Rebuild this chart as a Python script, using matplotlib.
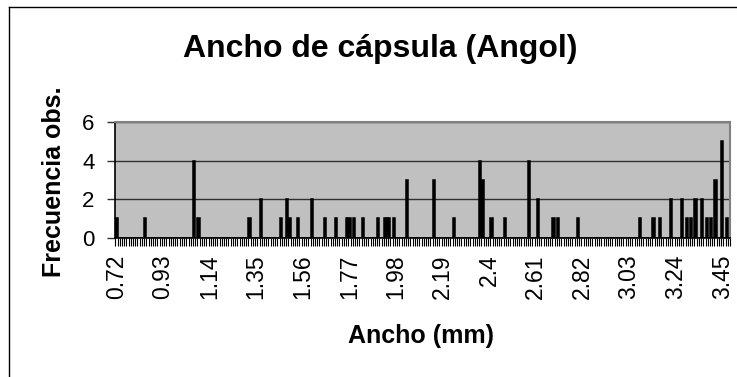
import numpy as np
import matplotlib
matplotlib.use("Agg")
import matplotlib.pyplot as plt
from matplotlib.lines import Line2D
from matplotlib.ticker import FixedLocator

plt.rcParams['font.family'] = ['Liberation Sans', 'DejaVu Sans']

# clases de ancho (mm), una cada 0.01 desde 0.72
ancho_inicio = 0.72
n_clases = 277

# clases con observaciones (indice de clase) y su frecuencia
clases_obs = [0, 13, 35, 37, 60, 65, 74, 77, 78, 82, 88, 94, 99, 104, 105,
              107, 111, 118, 121, 122, 123, 125, 131, 143, 152, 164, 165,
              169, 175, 186, 190, 197, 199, 208, 236, 242, 245, 250, 255,
              257, 259, 261, 264, 266, 268, 270, 273, 275]
frecuencias = [1, 1, 4, 1, 1, 2, 1, 2, 1, 1, 2, 1, 1, 1, 1,
               1, 1, 1, 1, 1, 1, 1, 3, 3, 1, 4, 3,
               1, 1, 4, 2, 1, 1, 1, 1, 1, 1, 2, 2,
               1, 1, 2, 2, 1, 1, 3, 5, 1]

etiquetas_x = ["0.72", "0.93", "1.14", "1.35", "1.56", "1.77", "1.98",
               "2.19", "2.4", "2.61", "2.82", "3.03", "3.24", "3.45"]
paso_etiqueta = 21

freq = np.zeros(n_clases)
freq[clases_obs] = frecuencias

fig = plt.figure(figsize=(7.37, 3.77), dpi=100)
fig.patch.set_facecolor('white')
ax = fig.add_axes([115.3 / 737, 1 - 237.7 / 377, (730 - 115.3) / 737, (237.7 - 122) / 377])
ax.set_facecolor('#c0c0c0')

x = np.arange(n_clases)
ax.bar(x, freq, width=1.0, color='black', edgecolor='black', linewidth=1.1, zorder=3)

ax.set_xlim(-0.5, n_clases - 0.5)
ax.set_ylim(0, 6)
ax.set_yticks([0, 2, 4, 6])
ax.yaxis.grid(True, color='#303030', linewidth=1.0, zorder=1)
ax.set_axisbelow(True)

ax.set_xticks(np.arange(len(etiquetas_x)) * paso_etiqueta)
ax.set_xticklabels(etiquetas_x, rotation=90)
ax.xaxis.set_minor_locator(FixedLocator(np.arange(n_clases + 1) - 0.5))
ax.tick_params(axis='x', which='major', length=0, pad=12, labelsize=16.5)
ax.tick_params(axis='x', which='minor', length=6, width=0.8, direction='out', color='black')
ax.tick_params(axis='y', which='major', length=6, width=1, color='#303030',
               labelsize=16, pad=9)

for s in ['left', 'bottom']:
    ax.spines[s].set_color('black')
    ax.spines[s].set_linewidth(1.2)
for s in ['top', 'right']:
    ax.spines[s].set_color('#808080')
    ax.spines[s].set_linewidth(1.5)

fig.text(380 / 737, 1 - 57 / 377, "Ancho de cápsula (Angol)", ha='center',
         va='baseline', fontsize=23, fontweight='bold')
fig.text(54 / 737, 1 - 182 / 377, "Frecuencia obs.", rotation=90, ha='center',
         va='center', fontsize=18, fontweight='bold')
fig.text(421 / 737, 1 - 343 / 377, "Ancho (mm)", ha='center', va='baseline',
         fontsize=18, fontweight='bold')

# borde del area del grafico
fig.add_artist(Line2D([8.5 / 737, 8.5 / 737], [0, 1 - 7 / 377], color='black', linewidth=1))
fig.add_artist(Line2D([8.5 / 737, 1], [1 - 7 / 377, 1 - 7 / 377], color='black', linewidth=1))

fig.savefig('out.png', dpi=100)
